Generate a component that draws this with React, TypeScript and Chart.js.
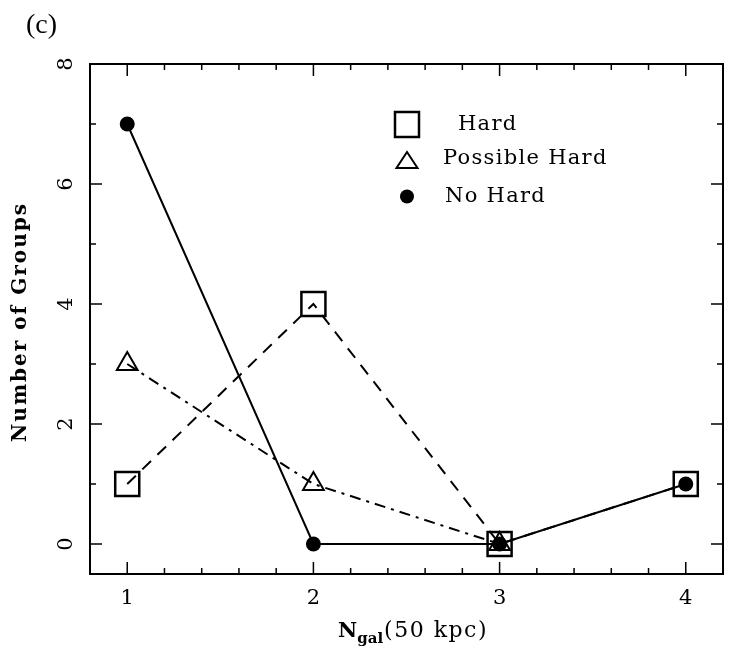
import React, { useEffect, useRef } from "react";
import { Chart, registerables } from "chart.js";
Chart.register(...registerables);

const categories = [1, 2, 3, 4];
const hardValues: (number | null)[] = [1, 4, 0, 1];
const possibleHardValues: (number | null)[] = [3, 1, 0, null];
const noHardValues: (number | null)[] = [7, 0, 0, 1];
const xTickLabels = [1, 2, 3, 4];
const yTickLabels = [0, 2, 4, 6, 8];
const legendLabels = ["Hard", "Possible Hard", "No Hard"];
const panelLabel = "(c)";
const yTitle = "Number of Groups";

const SERIF = "'DejaVu Serif', 'Liberation Serif', serif";

const decorPlugin = {
  id: "decor",
  afterDraw(chart: any) {
    const { ctx, chartArea: a, scales } = chart;
    const xs = scales.x;
    const ys = scales.y;
    ctx.save();
    ctx.strokeStyle = "#000";
    ctx.fillStyle = "#000";
    ctx.lineWidth = 2;
    ctx.setLineDash([]);
    ctx.strokeRect(a.left, a.top, a.right - a.left, a.bottom - a.top);
    // x ticks
    ctx.lineWidth = 1.5;
    for (let i = 0; i <= 17; i++) {
      const v = 0.8 + i * 0.2;
      const p = xs.getPixelForValue(v);
      const major = Math.abs(v - Math.round(v)) < 1e-6;
      const L = major ? 12 : 6;
      ctx.beginPath();
      ctx.moveTo(p, a.bottom);
      ctx.lineTo(p, a.bottom - L);
      ctx.moveTo(p, a.top);
      ctx.lineTo(p, a.top + L);
      ctx.stroke();
    }
    for (let v = 0; v <= 8; v++) {
      const p = ys.getPixelForValue(v);
      const major = v % 2 === 0;
      const L = major ? 12 : 6;
      ctx.beginPath();
      ctx.moveTo(a.left, p);
      ctx.lineTo(a.left + L, p);
      ctx.moveTo(a.right, p);
      ctx.lineTo(a.right - L, p);
      ctx.stroke();
    }
    // tick labels
    ctx.font = `21px ${SERIF}`;
    ctx.textAlign = "center";
    ctx.textBaseline = "middle";
    xTickLabels.forEach((t) => {
      ctx.fillText(String(t), xs.getPixelForValue(t), 599);
    });
    yTickLabels.forEach((t) => {
      const p = ys.getPixelForValue(t);
      ctx.save();
      ctx.translate(67, p);
      ctx.rotate(-Math.PI / 2);
      ctx.fillText(String(t), 0, 0);
      ctx.restore();
    });
    // y title
    ctx.save();
    ctx.font = `bold 20px ${SERIF}`;
    (ctx as any).letterSpacing = "2px";
    ctx.translate(21, (a.top + a.bottom) / 2 + 3);
    ctx.rotate(-Math.PI / 2);
    ctx.fillText(yTitle, 0, 0);
    ctx.restore();
    // x title: N_gal(50 kpc)
    ctx.save();
    ctx.textAlign = "left";
    ctx.textBaseline = "alphabetic";
    const xt = 338;
    const yb = 637;
    ctx.font = `bold 21px ${SERIF}`;
    ctx.fillText("N", xt, yb);
    let w = ctx.measureText("N").width;
    ctx.font = `bold 15px ${SERIF}`;
    ctx.fillText("gal", xt + w, yb + 6);
    w += ctx.measureText("gal").width + 1;
    ctx.font = `22px ${SERIF}`;
    (ctx as any).letterSpacing = "1.5px";
    ctx.fillText("(50 kpc)", xt + w, yb);
    ctx.restore();
    // panel label
    ctx.textAlign = "left";
    ctx.textBaseline = "alphabetic";
    ctx.font = `28px 'Liberation Serif', serif`;
    ctx.fillText(panelLabel, 26, 33);
    // legend
    const lx = 407;
    ctx.lineWidth = 2.5;
    ctx.strokeRect(lx - 12, 112, 24, 25);
    ctx.beginPath();
    ctx.moveTo(lx, 152);
    ctx.lineTo(lx + 10.5, 168);
    ctx.lineTo(lx - 10.5, 168);
    ctx.closePath();
    ctx.lineWidth = 2;
    ctx.stroke();
    ctx.beginPath();
    ctx.arc(lx, 196.5, 7, 0, Math.PI * 2);
    ctx.fill();
    ctx.save();
    ctx.font = `21px ${SERIF}`;
    (ctx as any).letterSpacing = "1.3px";
    ctx.textBaseline = "middle";
    ctx.fillText(legendLabels[0], 458, 125);
    ctx.fillText(legendLabels[1], 443, 159);
    ctx.fillText(legendLabels[2], 445, 197);
    ctx.restore();
    ctx.restore();
  },
};

export default function App() {
  const ref = useRef<HTMLCanvasElement | null>(null);
  useEffect(() => {
    if (!ref.current) return;
    const mk = (vals: (number | null)[]) => categories.map((c, i) => ({ x: c, y: vals[i] }));
    const chart = new Chart(ref.current, {
      type: "line",
      data: {
        datasets: [
          {
            label: legendLabels[0],
            data: mk(hardValues),
            borderColor: "#000",
            borderWidth: 2,
            borderDash: [12, 9],
            pointStyle: "rect",
            pointRadius: 17,
            pointBorderWidth: 2.5,
            pointBackgroundColor: "rgba(0,0,0,0)",
            pointBorderColor: "#000",
            fill: false,
            spanGaps: false,
          },
          {
            label: legendLabels[1],
            data: mk(possibleHardValues),
            borderColor: "#000",
            borderWidth: 2,
            borderDash: [11, 6, 3, 6],
            pointStyle: "triangle",
            pointRadius: 12,
            pointBorderWidth: 2,
            pointBackgroundColor: "rgba(0,0,0,0)",
            pointBorderColor: "#000",
            fill: false,
          },
          {
            label: legendLabels[2],
            data: mk(noHardValues),
            borderColor: "#000",
            borderWidth: 2,
            pointStyle: "circle",
            pointRadius: 7.5,
            pointBorderWidth: 0,
            pointBackgroundColor: "#000",
            pointBorderColor: "#000",
            fill: false,
          },
        ],
      },
      options: {
        animation: false,
        responsive: false,
        maintainAspectRatio: false,
        layout: { autoPadding: false, padding: { left: 90, right: 8, top: 64, bottom: 76 } },
        plugins: { legend: { display: false }, tooltip: { enabled: false } },
        scales: {
          x: {
            type: "linear",
            min: 0.8,
            max: 4.2,
            grid: { display: false },
            border: { display: false },
            ticks: { display: false },
            afterFit: (s: any) => { s.height = 0; },
          },
          y: {
            type: "linear",
            min: -0.5,
            max: 8,
            grid: { display: false },
            border: { display: false },
            ticks: { display: false },
            afterFit: (s: any) => { s.width = 0; },
          },
        },
      },
      plugins: [decorPlugin],
    } as any);
    return () => chart.destroy();
  }, []);
  return (
    <div style={{ position: "absolute", left: 0, top: 0, width: 731, height: 650, background: "#fff" }}>
      <canvas ref={ref} width={731} height={650} style={{ display: "block", width: 731, height: 650 }} />
    </div>
  );
}
